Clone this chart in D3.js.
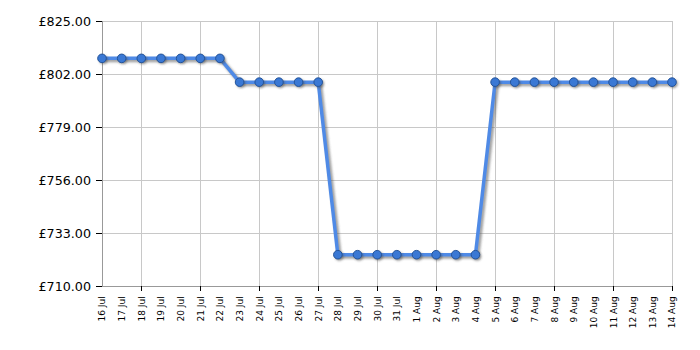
<!DOCTYPE html>
<html>
<head>
<meta charset="utf-8">
<script src="https://cdn.jsdelivr.net/npm/d3@7/dist/d3.min.js"></script>
<style>
body{margin:0;background:#fff;}
svg{display:block;}
</style>
</head>
<body>
<svg id="chart" width="700" height="350"></svg>
<script>
const dates = ["16 Jul","17 Jul","18 Jul","19 Jul","20 Jul","21 Jul","22 Jul","23 Jul","24 Jul","25 Jul","26 Jul","27 Jul","28 Jul","29 Jul","30 Jul","31 Jul","1 Aug","2 Aug","3 Aug","4 Aug","5 Aug","6 Aug","7 Aug","8 Aug","9 Aug","10 Aug","11 Aug","12 Aug","13 Aug","14 Aug"];
const prices = [808.8,808.8,808.8,808.8,808.8,808.8,808.8,798.5,798.5,798.5,798.5,798.5,723.7,723.7,723.7,723.7,723.7,723.7,723.7,723.7,798.5,798.5,798.5,798.5,798.5,798.5,798.5,798.5,798.5,798.5];
const yTicks = [710,733,756,779,802,825];
const gridDates = ["18 Jul","21 Jul","24 Jul","27 Jul","30 Jul","2 Aug","5 Aug","8 Aug","11 Aug","14 Aug"];

const svg = d3.select("#chart");
const pL = 102, pR = 672, pT = 21, pB = 286.3;

const x = d3.scalePoint().domain(dates).range([pL, pR]);
const y = d3.scaleLinear().domain([710, 825]).range([pB, pT]);

const defs = svg.append("defs");
const f = defs.append("filter").attr("id","sh").attr("x","-20%").attr("y","-20%").attr("width","140%").attr("height","140%");
f.append("feGaussianBlur").attr("stdDeviation",1.2);

// grid
const g = svg.append("g");
g.selectAll("line.hg").data(yTicks).join("line")
  .attr("x1", pL).attr("x2", pR)
  .attr("y1", d=>y(d)).attr("y2", d=>y(d))
  .attr("stroke", "#c8c8c8").attr("stroke-width", 1).attr("shape-rendering","crispEdges");
g.selectAll("line.vg").data(gridDates).join("line")
  .attr("x1", d=>x(d)).attr("x2", d=>x(d))
  .attr("y1", pT).attr("y2", pB)
  .attr("stroke", "#c8c8c8").attr("stroke-width", 1).attr("shape-rendering","crispEdges");

// axes lines
svg.append("line").attr("x1",pL).attr("x2",pL).attr("y1",pT).attr("y2",pB)
  .attr("stroke","#999").attr("shape-rendering","crispEdges");
svg.append("line").attr("x1",pL).attr("x2",pR).attr("y1",pB).attr("y2",pB)
  .attr("stroke","#999").attr("shape-rendering","crispEdges");

// y axis
const yAxis = d3.axisLeft(y).tickValues(yTicks).tickSize(6).tickPadding(5)
  .tickFormat(d => "£" + d3.format(".2f")(d));
const ya = svg.append("g").attr("transform", `translate(${pL},0)`).call(yAxis);
ya.select(".domain").remove();
ya.selectAll(".tick line").attr("stroke","#000").attr("shape-rendering","crispEdges");
ya.selectAll("text").attr("font-family","Verdana, 'DejaVu Sans', sans-serif").attr("font-size","12.7px").attr("fill","#000");

// x axis
const xAxis = d3.axisBottom(x).tickSize(0).tickPadding(0);
const xa = svg.append("g").attr("transform", `translate(0,${pB})`).call(xAxis);
xa.select(".domain").remove();
xa.selectAll(".tick text")
  .attr("font-family","Verdana, 'DejaVu Sans', sans-serif").attr("font-size","9px").attr("fill","#000")
  .attr("transform","rotate(-90)").attr("text-anchor","end")
  .attr("x",-10).attr("y",0).attr("dy","0.33em");
xa.selectAll(".tick").filter(d => gridDates.includes(d)).append("line")
  .attr("y1",0).attr("y2",5).attr("stroke","#000").attr("shape-rendering","crispEdges");

// line
const line = d3.line().x((d,i)=>x(dates[i])).y(d=>y(d));
svg.append("path").datum(prices).attr("d", line)
  .attr("fill","none").attr("stroke","#555").attr("stroke-opacity",0.55).attr("stroke-width",4)
  .attr("transform","translate(2,2)").attr("filter","url(#sh)");
svg.append("path").datum(prices).attr("d", line)
  .attr("fill","none").attr("stroke","#4f8ae6").attr("stroke-width",3.5).attr("stroke-linejoin","round");

// markers
svg.selectAll("circle.sh").data(prices).join("circle")
  .attr("cx",(d,i)=>x(dates[i])+1.5).attr("cy",d=>y(d)+1.5).attr("r",4.5)
  .attr("fill","#444").attr("fill-opacity",0.5).attr("filter","url(#sh)");
svg.selectAll("circle.mk").data(prices).join("circle")
  .attr("cx",(d,i)=>x(dates[i])).attr("cy",d=>y(d)).attr("r",4.3)
  .attr("fill","#3a78d4").attr("stroke","#24549a").attr("stroke-width",1);
</script>
</body>
</html>
